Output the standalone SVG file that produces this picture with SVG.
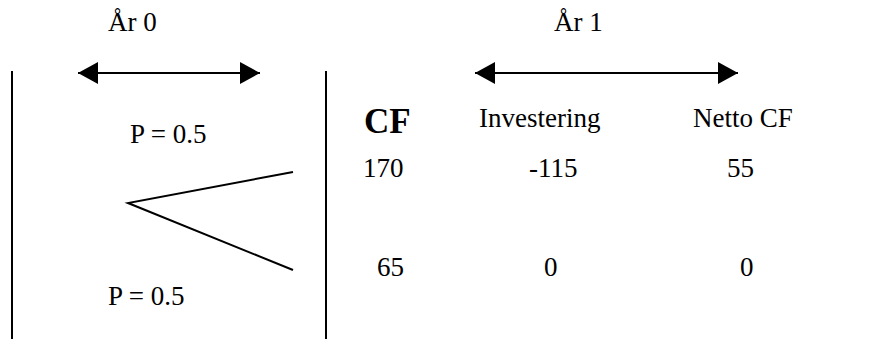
<svg xmlns="http://www.w3.org/2000/svg" width="875" height="351" viewBox="0 0 875 351">
  <defs>
    <marker id="head" viewBox="0 0 20 22" refX="20" refY="11" markerWidth="20" markerHeight="22" markerUnits="userSpaceOnUse" orient="auto-start-reverse">
      <path d="M0,0 L20,11 L0,22 Z" fill="#000"/>
    </marker>
    <style>
      .t { font-family: "Liberation Serif", "Times New Roman", serif; font-size: 27px; fill: #000; }
      .b { font-family: "Liberation Serif", "Times New Roman", serif; font-size: 35px; font-weight: bold; fill: #000; }
      .ln { stroke: #000; stroke-width: 2; fill: none; }
      .arr { stroke: #000; stroke-width: 2; fill: none; marker-start: url(#head); marker-end: url(#head); }
    </style>
  </defs>
  <rect width="875" height="351" fill="#fff"/>

  <!-- period labels -->
  <g id="year0">
    <text class="t" x="108" y="31">År 0</text>
  </g>
  <g id="year1">
    <text class="t" x="554" y="31">År 1</text>
  </g>

  <!-- period boundaries, time spans and decision tree -->
  <g id="connectors">
    <line class="ln" x1="12" y1="71" x2="12" y2="339"/>
    <line class="ln" x1="326" y1="71" x2="326" y2="339"/>
    <line class="arr" x1="78" y1="73" x2="260" y2="73"/>
    <line class="arr" x1="475" y1="73" x2="738" y2="73"/>
    <polyline class="ln" points="293,172 128,203 293,270"/>
  </g>

  <g id="prob-up">
    <text class="t" x="130" y="143">P = 0.5</text>
  </g>
  <g id="prob-down">
    <text class="t" x="108" y="305">P = 0.5</text>
  </g>

  <!-- cash flow table -->
  <g id="table-header">
    <text class="b" x="364" y="133">CF</text>
    <text class="t" x="479" y="127">Investering</text>
    <text class="t" x="693" y="127">Netto CF</text>
  </g>
  <g id="row-up">
    <text class="t" x="363" y="177">170</text>
    <text class="t" x="529" y="177">-115</text>
    <text class="t" x="727" y="177">55</text>
  </g>
  <g id="row-down">
    <text class="t" x="377" y="276">65</text>
    <text class="t" x="544" y="276">0</text>
    <text class="t" x="740" y="276">0</text>
  </g>
</svg>
